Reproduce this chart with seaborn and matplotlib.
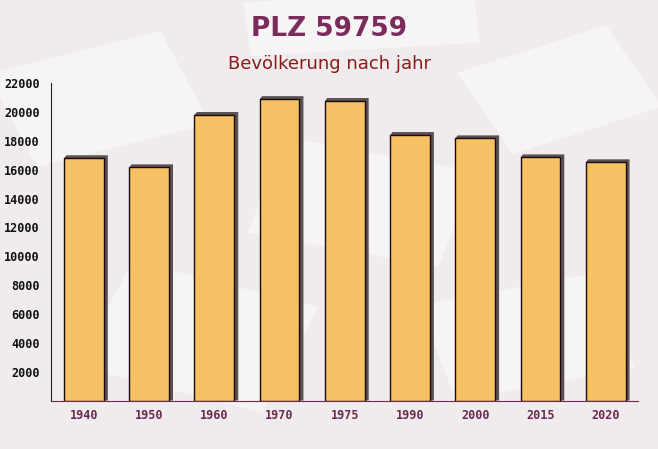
import matplotlib
matplotlib.use("Agg")
import matplotlib.pyplot as plt
import matplotlib.patches as mpatches
import matplotlib.transforms as mtransforms
import seaborn as sns
import pandas as pd

years = ["1940", "1950", "1960", "1970", "1975", "1990", "2000", "2015", "2020"]
population = [16800, 16170, 19800, 20900, 20770, 18410, 18180, 16860, 16520]
yticks = [2000, 4000, 6000, 8000, 10000, 12000, 14000, 16000, 18000, 20000, 22000]

title = "PLZ 59759"
subtitle = "Bevölkerung nach jahr"

sns.set_style("white")
plt.rcParams['font.family'] = ['DejaVu Sans']

bg = "#f0ecee"
fig = plt.figure(figsize=(6.58, 4.49), dpi=100, facecolor=bg)

# faint decorative background sheets
for (cx, cy, w, h, ang) in [(0.15, 0.78, 0.28, 0.22, 20), (0.55, 0.55, 0.30, 0.22, -15),
                            (0.85, 0.80, 0.25, 0.20, 25), (0.30, 0.25, 0.30, 0.25, -20),
                            (0.80, 0.25, 0.28, 0.22, 15), (0.55, 0.95, 0.35, 0.12, 5)]:
    r = mpatches.Rectangle((-w / 2, -h / 2), w, h, facecolor="white", alpha=0.45,
                           edgecolor="none", zorder=-5,
                           transform=mtransforms.Affine2D().rotate_deg(ang).translate(cx, cy) + fig.transFigure)
    fig.patches.append(r)

ax = fig.add_axes([0.077, 0.108, 0.893, 0.7065])
ax.set_zorder(5)
ax.patch.set_alpha(0)

df = pd.DataFrame({"year": years, "pop": population})
sns.barplot(data=df, x="year", y="pop", ax=ax, color="#f6c064", width=0.61,
            saturation=1, edgecolor="#1a0a0a", linewidth=1.0, zorder=3)

ax.set_ylim(0, 22000)
ax.set_xlim(-0.51, len(years) - 0.53)

# 3D-style shadow derived from the drawn bars
trans = ax.transData
for p in list(ax.patches):
    x0, y0 = p.get_x(), p.get_y()
    w, h = p.get_width(), p.get_height()
    (px0, py0) = trans.transform((x0, y0))
    dx = trans.inverted().transform((px0 + 4, py0))[0] - x0
    dy = trans.inverted().transform((px0, py0 - 3))[1] - y0
    shadow = mpatches.Polygon([(x0, y0 + h), (x0 + dx * 0.6, y0 + h - dy),
                               (x0 + w + dx, y0 + h - dy), (x0 + w + dx, y0),
                               (x0 + w, y0), (x0 + w, y0 + h)],
                              closed=True, facecolor="#5a5252", edgecolor="none", zorder=2)
    ax.add_patch(shadow)

ax.set_yticks(yticks)
ax.set_yticks(range(1000, 22000, 2000), minor=True)
ax.set_yticklabels([str(v) for v in yticks], family="DejaVu Sans Mono",
                   fontweight="bold", fontsize=8.5, color="#111111")
ax.set_xticks(range(len(years)))
ax.set_xticklabels(years, family="DejaVu Sans Mono", fontweight="bold",
                   fontsize=8.5, color="#6b2a4e")
ax.set_xticks([i + 0.5 for i in range(len(years))], minor=True)
ax.tick_params(axis="y", which="major", length=4, width=1, color="#222222", direction="in", pad=8)
ax.tick_params(axis="y", which="minor", length=4, width=1, color="#222222", direction="in")
ax.tick_params(axis="x", which="major", length=0, pad=6)
ax.tick_params(axis="x", which="minor", length=5, width=1, color="#6b2a4e", direction="in")
ax.set_xlabel("")
ax.set_ylabel("")
for s in ["top", "right"]:
    ax.spines[s].set_visible(False)
ax.spines["left"].set_color("#222222")
ax.spines["bottom"].set_color("#6b2a4e")

fig.text(0.5, 0.935, title, ha="center", va="center", fontsize=19,
         fontweight="bold", color="#7a2c5a")
fig.text(0.5, 0.858, subtitle, ha="center", va="center", fontsize=13,
         color="#8b1a1a")

fig.savefig("out.png", dpi=100, facecolor=bg)
